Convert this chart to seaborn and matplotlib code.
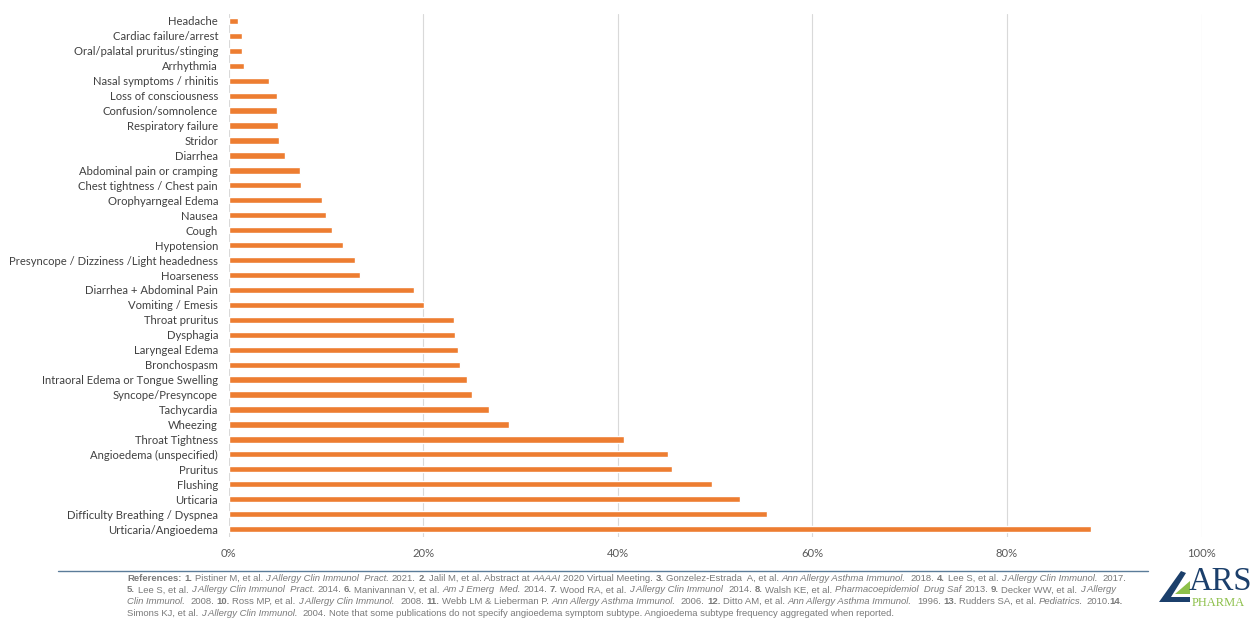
import matplotlib
matplotlib.use("Agg")
import matplotlib.pyplot as plt
from matplotlib.patches import Polygon
from matplotlib.lines import Line2D
import seaborn as sns
import pandas as pd

categories = [
    "Headache", "Cardiac failure/arrest", "Oral/palatal pruritus/stinging", "Arrhythmia",
    "Nasal symptoms / rhinitis", "Loss of consciousness", "Confusion/somnolence",
    "Respiratory failure", "Stridor", "Diarrhea", "Abdominal pain or cramping",
    "Chest tightness / Chest pain", "Orophyarngeal Edema", "Nausea", "Cough", "Hypotension",
    "Presyncope / Dizziness /Light headedness", "Hoarseness", "Diarrhea + Abdominal Pain",
    "Vomiting / Emesis", "Throat pruritus", "Dysphagia", "Laryngeal Edema", "Bronchospasm",
    "Intraoral Edema or Tongue Swelling", "Syncope/Presyncope", "Tachycardia", "Wheezing",
    "Throat Tightness", "Angioedema (unspecified)", "Pruritus", "Flushing", "Urticaria",
    "Difficulty Breathing / Dyspnea", "Urticaria/Angioedema",
]
values = [
    1.0, 1.4, 1.4, 1.6, 4.2, 5.0, 5.0, 5.1, 5.2, 5.8, 7.3, 7.4, 9.6, 10.0, 10.6, 11.8,
    13.0, 13.5, 19.1, 20.1, 23.2, 23.3, 23.6, 23.8, 24.5, 25.0, 26.8, 28.8, 40.6, 45.2,
    45.6, 49.7, 52.6, 55.3, 88.6,
]
x_ticks = [0, 20, 40, 60, 80, 100]
x_tick_labels = ["0%", "20%", "40%", "60%", "80%", "100%"]

# (text, style, gap-before) ; style b = bold, i = italic
reference_lines = [
    [("References:", "b", 0), ("1.", "b", 1), ("Pistiner M, et al.", "", 1),
     ("J Allergy Clin Immunol  Pract.", "i", 1), ("2021.", "", 1), ("2.", "b", 1),
     ("Jalil M, et al. Abstract at", "", 1), ("AAAAI", "i", 1), ("2020 Virtual Meeting.", "", 1),
     ("3.", "b", 1), ("Gonzelez-Estrada  A, et al.", "", 1), ("Ann Allergy Asthma Immunol.", "i", 1),
     ("2018.", "", 2), ("4.", "b", 1), ("Lee S, et al.", "", 1), ("J Allergy Clin Immunol.", "i", 1),
     ("2017.", "", 2)],
    [("5.", "b", 0), ("Lee S, et al.", "", 1), ("J Allergy Clin Immunol  Pract.", "i", 1),
     ("2014.", "", 1), ("6.", "b", 1), ("Manivannan V, et al.", "", 1), ("Am J Emerg  Med.", "i", 1),
     ("2014.", "", 1), ("7.", "b", 1), ("Wood RA, et al.", "", 1), ("J Allergy Clin Immunol", "i", 1),
     ("2014.", "", 2), ("8.", "b", 1), ("Walsh KE, et al.", "", 1),
     ("Pharmacoepidemiol  Drug Saf", "i", 1), ("2013.", "", 1), ("9.", "b", 1),
     ("Decker WW, et al.", "", 1), ("J Allergy", "i", 1)],
    [("Clin Immunol.", "i", 0), ("2008.", "", 2), ("10.", "b", 1), ("Ross MP, et al.", "", 1),
     ("J Allergy Clin Immunol.", "i", 1), ("2008.", "", 2), ("11.", "b", 1),
     ("Webb LM & Lieberman P.", "", 1), ("Ann Allergy Asthma Immunol.", "i", 1), ("2006.", "", 2),
     ("12.", "b", 1), ("Ditto AM, et al.", "", 1), ("Ann Allergy Asthma Immunol.", "i", 1),
     ("1996.", "", 2), ("13.", "b", 1), ("Rudders SA, et al.", "", 1), ("Pediatrics.", "i", 1),
     ("2010.", "", 1), ("14.", "b", 0)],
    [("Simons KJ, et al.", "", 0), ("J Allergy Clin Immunol.", "i", 1), ("2004.", "", 2),
     ("Note that some publications do not specify angioedema symptom subtype. "
      "Angioedema subtype frequency aggregated when reported.", "", 1)],
]

W, H = 1250, 619
sns.set_theme(style="white")
plt.rcParams["font.family"] = ["Lato", "DejaVu Sans"]

fig = plt.figure(figsize=(W / 100, H / 100), dpi=100)
fig.patch.set_facecolor("white")

ax_left, ax_right, ax_top, ax_bottom = 228.5, 1201.5, 13.5, 536.5
ax = fig.add_axes([ax_left / W, 1 - ax_bottom / H, (ax_right - ax_left) / W, (ax_bottom - ax_top) / H])

df = pd.DataFrame({"symptom": categories, "pct": values})
sns.barplot(data=df, x="pct", y="symptom", order=categories, color="#ED7D31",
            saturation=1, width=0.42, orient="h", ax=ax, zorder=3)

ax.set_xlim(0, 100)
ax.set_ylim(len(categories) - 0.5, -0.5)
ax.set_xticks(x_ticks)
ax.set_xticklabels(x_tick_labels)
ax.set_xlabel("")
ax.set_ylabel("")
for s in ax.spines.values():
    s.set_visible(False)
ax.grid(axis="x", color="#D9D9D9", lw=0.8, zorder=0)
ax.grid(axis="y", visible=False)
ax.tick_params(axis="y", length=0, pad=7.5, labelsize=8.1, labelcolor="#404040")
ax.tick_params(axis="x", length=0, pad=8, labelsize=8.1, labelcolor="#595959")

# separator line
fig.add_artist(Line2D([58 / W, 1148 / W], [1 - 570.5 / H, 1 - 570.5 / H],
                      color="#5B7C99", lw=1.0))

# references text with mixed styles
fig.canvas.draw()
renderer = fig.canvas.get_renderer()
ref_size = 6.8
ref_color = "#7A7A7A"
ref_font = "Liberation Sans"


def _tw(txt):
    t = fig.text(0, 0, txt, fontsize=ref_size, family=ref_font)
    w = t.get_window_extent(renderer).width
    t.remove()
    return w


space_w = _tw("a a") - _tw("aa")
line_y = [581, 592.5, 604, 615.5]
for row, y in zip(reference_lines, line_y):
    x = 127.0
    for text, st, gap in row:
        x += gap * space_w
        t = fig.text(x / W, 1 - y / H, text, fontsize=ref_size,
                     fontweight="bold" if "b" in st else "normal",
                     fontstyle="italic" if "i" in st else "normal",
                     family=ref_font, color=ref_color, ha="left", va="baseline")
        x += t.get_window_extent(renderer).width

# logo
navy = "#1B3F6B"
green = "#8DC04A"
fig.add_artist(Polygon([(1159 / W, 1 - 602 / H), (1181 / W, 1 - 571 / H), (1186 / W, 1 - 573 / H),
                        (1171 / W, 1 - 597 / H), (1190 / W, 1 - 597 / H), (1190 / W, 1 - 602 / H)],
                       closed=True, facecolor=navy, edgecolor="none", transform=fig.transFigure))
fig.add_artist(Polygon([(1175 / W, 1 - 594 / H), (1190 / W, 1 - 581 / H), (1190 / W, 1 - 594 / H)],
                       closed=True, facecolor=green, edgecolor="none", transform=fig.transFigure))
fig.text(1189 / W, 1 - 590 / H, "ARS", fontsize=23.5, family="Liberation Serif", color=navy,
         ha="left", va="baseline")
fig.text(1192 / W, 1 - 605.5 / H, "PHARMA", fontsize=9.0, family="Liberation Serif", color=green,
         ha="left", va="baseline")

fig.savefig("out.png", dpi=100, facecolor="white")
